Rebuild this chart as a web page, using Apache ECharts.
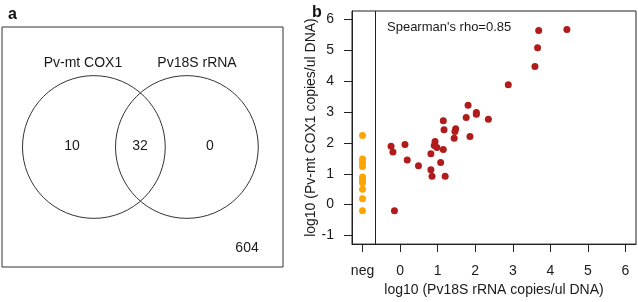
<!DOCTYPE html>
<html>
<head>
<meta charset="utf-8">
<script src="https://cdn.jsdelivr.net/npm/echarts@6/dist/echarts.min.js"></script>
<style>
  html, body { margin: 0; padding: 0; background: #fff; }
  #chart { width: 638px; height: 302px; }
</style>
</head>
<body>
<div id="chart"></div>
<script>
// panel a: Venn counts
const vennSets = ['Pv-mt COX1', 'Pv18S rRNA']
const vennCounts = [10, 32, 0] // COX1 only, both, 18S only
const vennNeither = 604

// panel b: log10 copies/ul DNA
const pos18S = [4.44, 3.69, 3.66, 3.59, 2.88, 1.81, 2.03, 2.03, 1.76, 2.35, 1.15,
  1.17, 1.48, 1.46, 1.44, 1.86, -0.24, -0.19, 0.13, 0.93, 0.91, 0.98, 1.15,
  0.19, 0.82, 0.49, 0.82, 1.08, 0.85, 1.20, -0.15]
const posCox1 = [5.68, 5.65, 5.09, 4.48, 3.89, 3.22, 2.99, 2.93, 2.83, 2.77, 2.72,
  2.43, 2.46, 2.37, 2.15, 2.21, 1.89, 1.71, 1.95, 2.05, 1.92, 1.85, 1.79,
  1.45, 1.65, 1.26, 1.13, 1.37, 0.92, 0.92, -0.20]
const negCox1 = [2.24, 1.48, 1.37, 1.24, 0.90, 0.80, 0.71, 0.50, 0.19, -0.20]
const tickValues = [-1, 0, 1, 2, 3, 4, 5, 6]
const rhoText = "Spearman's rho=0.85"

const NEG_X = -1 // where the 18S-negative samples sit
const SPLIT_X = -0.65 // divider between neg and the log axis

// venn layout (unit square of panel a)
const circleX = [0.327, 0.658]
const circleY = 0.5
const circleR = 0.254

const textColor = '#1a1a1a'
const lineColor = '#333'

let myChart = echarts.init(document.getElementById('chart'))

myChart.setOption({
  animation: false,
  backgroundColor: '#fff',
  title: [
    { text: 'a', left: 3, top: 2, textStyle: { fontSize: 16, fontWeight: 'bold', color: '#111', fontFamily: 'Liberation Sans' } },
    { text: 'b', left: 307, top: 0, textStyle: { fontSize: 16, fontWeight: 'bold', color: '#111', fontFamily: 'Liberation Sans' } },
    { text: rhoText, left: 382, top: 16, textStyle: { fontSize: 13, fontWeight: 'normal', color: textColor, fontFamily: 'Liberation Sans' } }
  ],
  grid: [
    { left: 2, top: 27, width: 281, height: 240, show: true, borderColor: lineColor, borderWidth: 1, backgroundColor: 'transparent' },
    { left: 352, top: 11, width: 284, height: 242, show: true, borderColor: '#222', borderWidth: 1, backgroundColor: 'transparent' }
  ],
  xAxis: [
    { gridIndex: 0, type: 'value', min: 0, max: 1, show: false },
    {
      gridIndex: 1,
      type: 'value',
      min: -1.28,
      max: 6.28,
      splitLine: { show: false },
      axisLine: { show: true, onZero: false, lineStyle: { color: '#222' } },
      axisTick: { show: true, length: 8, customValues: tickValues, lineStyle: { color: '#222' } },
      axisLabel: {
        customValues: tickValues,
        margin: 20,
        fontSize: 14,
        color: textColor,
        fontFamily: 'Liberation Sans',
        formatter: function (v) { return v === NEG_X ? 'neg' : String(v) }
      },
      name: 'log10 (Pv18S rRNA copies/ul DNA)',
      nameLocation: 'middle',
      nameGap: 34,
      nameTextStyle: { fontSize: 14, color: textColor, fontFamily: 'Liberation Sans' }
    }
  ],
  yAxis: [
    { gridIndex: 0, type: 'value', min: 0, max: 1, show: false },
    {
      gridIndex: 1,
      type: 'value',
      min: -1.28,
      max: 6.28,
      splitLine: { show: false },
      axisLine: { show: true, onZero: false, lineStyle: { color: '#222' } },
      axisTick: { show: true, length: 8, customValues: tickValues, lineStyle: { color: '#222' } },
      axisLabel: {
        customValues: tickValues,
        margin: 18,
        fontSize: 14,
        color: textColor,
        fontFamily: 'Liberation Sans'
      },
      name: 'log10 (Pv-mt COX1 copies/ul DNA)',
      nameLocation: 'middle',
      nameGap: 32,
      nameTextStyle: { fontSize: 14, color: textColor, fontFamily: 'Liberation Sans' }
    }
  ],
  series: [
    // venn circles
    {
      type: 'custom',
      xAxisIndex: 0,
      yAxisIndex: 0,
      silent: true,
      data: vennSets.map((name, i) => [circleX[i], circleY, name]),
      renderItem: function (params, api) {
        const c = api.coord([api.value(0), api.value(1)])
        const r = api.size([circleR, 0])[0]
        return {
          type: 'circle',
          shape: { cx: c[0], cy: c[1], r: r },
          style: { fill: 'none', stroke: lineColor, lineWidth: 1 }
        }
      }
    },
    // venn text
    {
      type: 'custom',
      xAxisIndex: 0,
      yAxisIndex: 0,
      silent: true,
      data: [
        [0.288, 0.85, vennSets[0]],
        [0.694, 0.85, vennSets[1]],
        [0.249, 0.504, String(vennCounts[0])],
        [0.491, 0.504, String(vennCounts[1])],
        [0.740, 0.504, String(vennCounts[2])],
        [0.872, 0.079, String(vennNeither)]
      ],
      renderItem: function (params, api) {
        const c = api.coord([api.value(0), api.value(1)])
        return {
          type: 'text',
          x: c[0],
          y: c[1],
          style: {
            text: api.value(2),
            fill: textColor,
            font: '14px "Liberation Sans"',
            textAlign: 'center',
            textVerticalAlign: 'middle'
          }
        }
      }
    },
    // 18S positive
    {
      type: 'scatter',
      xAxisIndex: 1,
      yAxisIndex: 1,
      symbolSize: 7,
      itemStyle: { color: '#b01c1c', opacity: 1 },
      data: pos18S.map((x, i) => [x, posCox1[i]]),
      markLine: {
        silent: true,
        symbol: 'none',
        label: { show: false },
        lineStyle: { color: '#222', type: 'solid', width: 1 },
        data: [{ xAxis: SPLIT_X }]
      }
    },
    // 18S negative
    {
      type: 'scatter',
      xAxisIndex: 1,
      yAxisIndex: 1,
      symbolSize: 7,
      itemStyle: { color: '#ffa500', opacity: 1 },
      data: negCox1.map(v => [NEG_X, v])
    }
  ]
})
</script>
</body>
</html>
